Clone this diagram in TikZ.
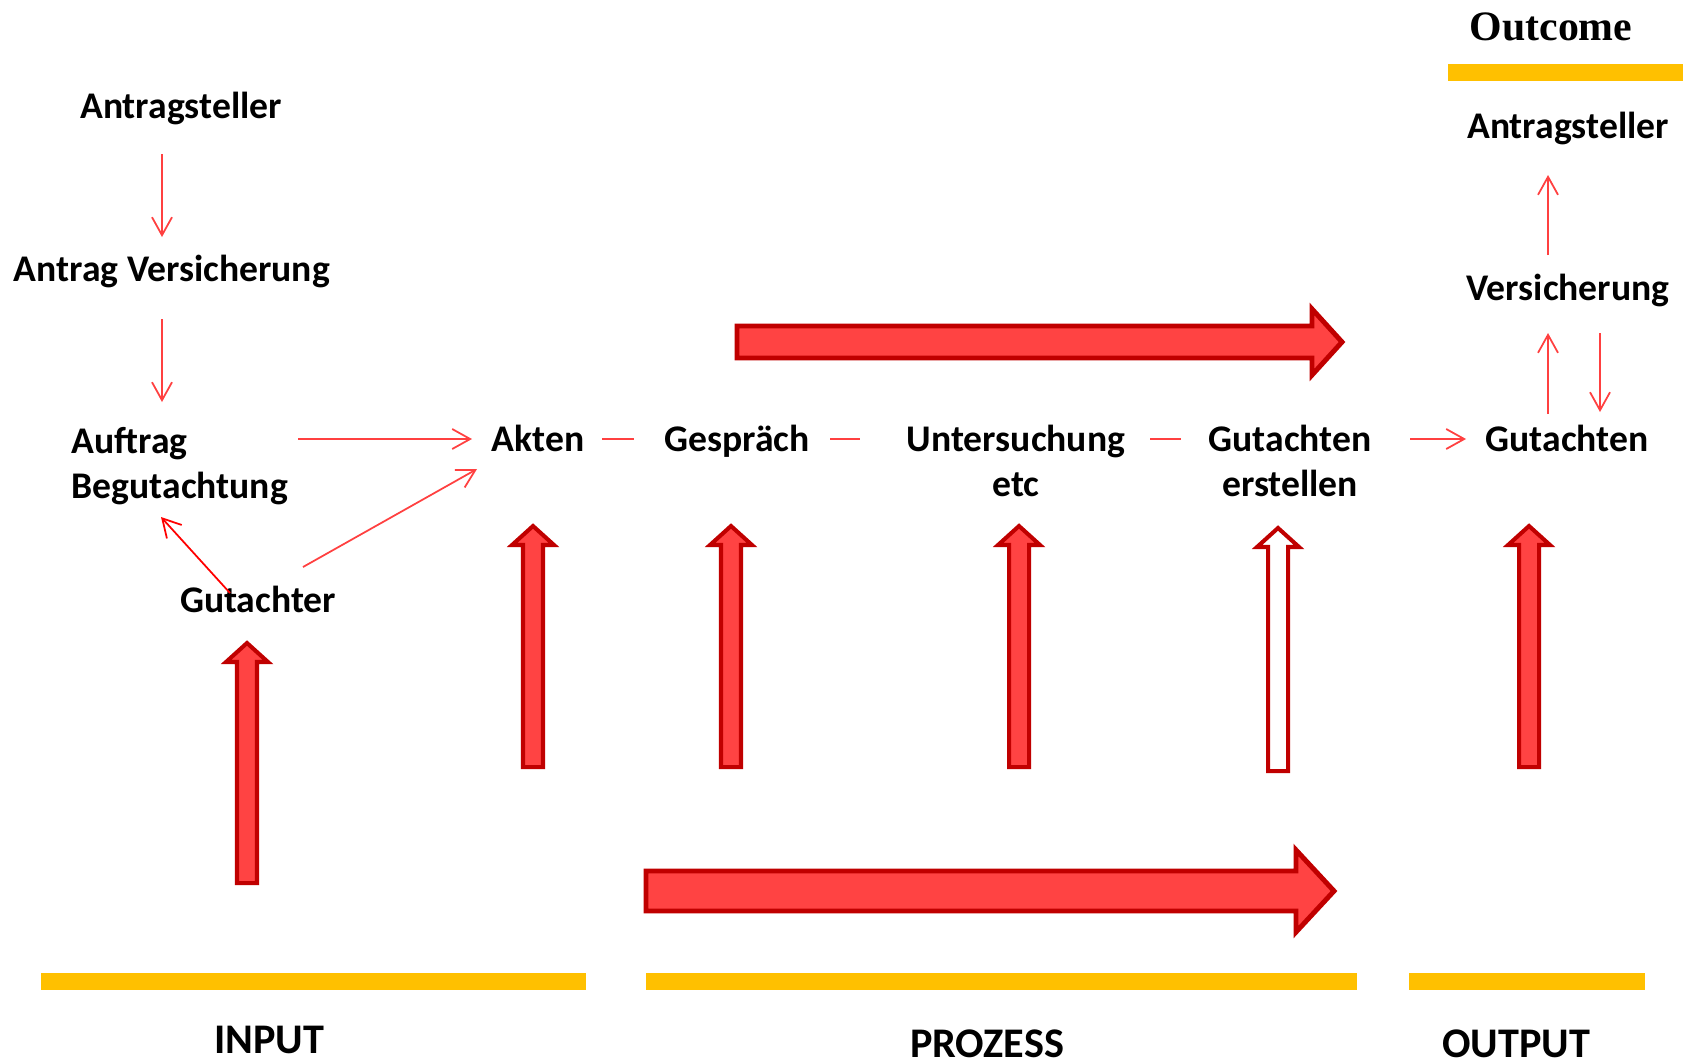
\documentclass[tikz,border=0pt]{standalone}
\usepackage{fontspec}
\setmainfont{Carlito}
\newfontfamily\headfont{Liberation Serif}
\usetikzlibrary{arrows.meta,calc}

\definecolor{barorange}{RGB}{255,192,0}
\definecolor{arrowdark}{RGB}{192,0,0}
\definecolor{arrowfill}{RGB}{255,67,67}
\definecolor{linkred}{RGB}{255,64,64}

\tikzset{
  lbl/.style={font=\fontsize{10.7}{12.8}\selectfont\bfseries,inner sep=0pt,anchor=base},
  mlbl/.style={lbl,align=center},
  phase/.style={font=\fontsize{12}{14}\selectfont\bfseries,inner sep=0pt,anchor=base},
  link/.style={draw=linkred,line width=0.5pt,-{Straight Barb[length=1.8mm,width=2mm]}},
  dashlink/.style={draw=linkred,line width=0.5pt},
  fatarrow/.style={draw=arrowdark,fill=arrowfill,line width=1.15pt},
  hollow/.style={draw=arrowdark,fill=white,line width=1.15pt},
  bar/.style={fill=barorange},
}

\begin{document}
\begin{tikzpicture}[x=0.01cm,y=-0.01cm]
  \useasboundingbox (0,0) rectangle (1686,1063);

  % input side
  \node[lbl] (ant1) at (181,118) {Antragsteller};
  \node[lbl] (antv) at (172,281) {Antrag Versicherung};
  \node[mlbl,align=left,anchor=base west] (auft) at (71,498) {Auftrag\\Begutachtung};
  \node[lbl] (gutr) at (258,612) {Gutachter};

  % process row (multi-line nodes sit on their last line)
  \node[lbl] (akten) at (538,451) {Akten};
  \node[lbl] (gesp) at (737,451) {Gespräch};
  \node[mlbl] (unt) at (1016,496) {Untersuchung\\etc};
  \node[mlbl] (erst) at (1290,496) {Gutachten\\erstellen};

  % output side
  \node[lbl] (gut2) at (1567,451) {Gutachten};
  \node[lbl] (ver2) at (1568,300) {Versicherung};
  \node[lbl] (ant2) at (1568,138) {Antragsteller};
  \node[lbl,font=\headfont\fontsize{11.9}{14}\selectfont\bfseries] (outc) at (1551,40) {Outcome};

  \node[phase] (inp) at (269,1053) {INPUT};
  \node[phase] (proz) at (987,1057) {PROZESS};
  \node[phase] (outp) at (1516,1057) {OUTPUT};

  % thin links
  \draw[link] ($(ant1.base)+(-19,36)$) -- ($(antv.base)+(-10,-44)$);
  \draw[link] ($(antv.base)+(-10,38)$) -- ($(auft.base west)+(91,-96)$);
  \draw[link] ($(auft.base west)+(227,-59)$) -- ($(akten.base)+(-66,-12)$);
  \draw[link] ($(gutr.base)+(45,-45)$) -- ($(akten.base)+(-61,18)$);
  \draw[link,draw=red] ($(gutr.base)+(-28,-19)$) -- ($(auft.base west)+(90,19)$);
  \draw[dashlink] ($(akten.base)+(64,-12)$) -- ($(gesp.base)+(-103,-12)$);
  \draw[dashlink] ($(gesp.base)+(93,-12)$) -- ($(unt.base)+(-156,-57)$);
  \draw[dashlink] ($(unt.base)+(134,-57)$) -- ($(erst.base)+(-109,-57)$);
  \draw[link] ($(erst.base)+(120,-57)$) -- ($(gut2.base)+(-101,-12)$);
  \draw[link] ($(gut2.base)+(-19,-37)$) -- ($(ver2.base)+(-20,33)$);
  \draw[link] ($(ver2.base)+(32,33)$) -- ($(gut2.base)+(33,-39)$);
  \draw[link] ($(ver2.base)+(-20,-45)$) -- ($(ant2.base)+(-20,37)$);

  % block arrows
  \foreach \ax/\tip/\bot/\sty in {247/643/883/fatarrow,533/526/767/fatarrow,731/526/767/fatarrow,1019/526/767/fatarrow,1278/528/771/hollow,1529/526/767/fatarrow}
    \draw[\sty] (\ax-10,\bot) -- (\ax-10,\tip+19) -- (\ax-21,\tip+19) -- (\ax,\tip)
      -- (\ax+21,\tip+19) -- (\ax+10,\tip+19) -- (\ax+10,\bot) -- cycle;
  \draw[fatarrow,line width=1.4pt] (737,326) -- (1312,326) -- (1312,309) -- (1342,342)
    -- (1312,375) -- (1312,358) -- (737,358) -- cycle;
  \draw[fatarrow,line width=1.4pt] (646,871) -- (1296,871) -- (1296,850) -- (1334,891)
    -- (1296,932) -- (1296,911) -- (646,911) -- cycle;

  % phase bars
  \fill[bar] (1448,64) rectangle (1683,81);
  \fill[bar] (41,973) rectangle (586,990);
  \fill[bar] (646,973) rectangle (1357,990);
  \fill[bar] (1409,973) rectangle (1645,990);
\end{tikzpicture}
\end{document}
